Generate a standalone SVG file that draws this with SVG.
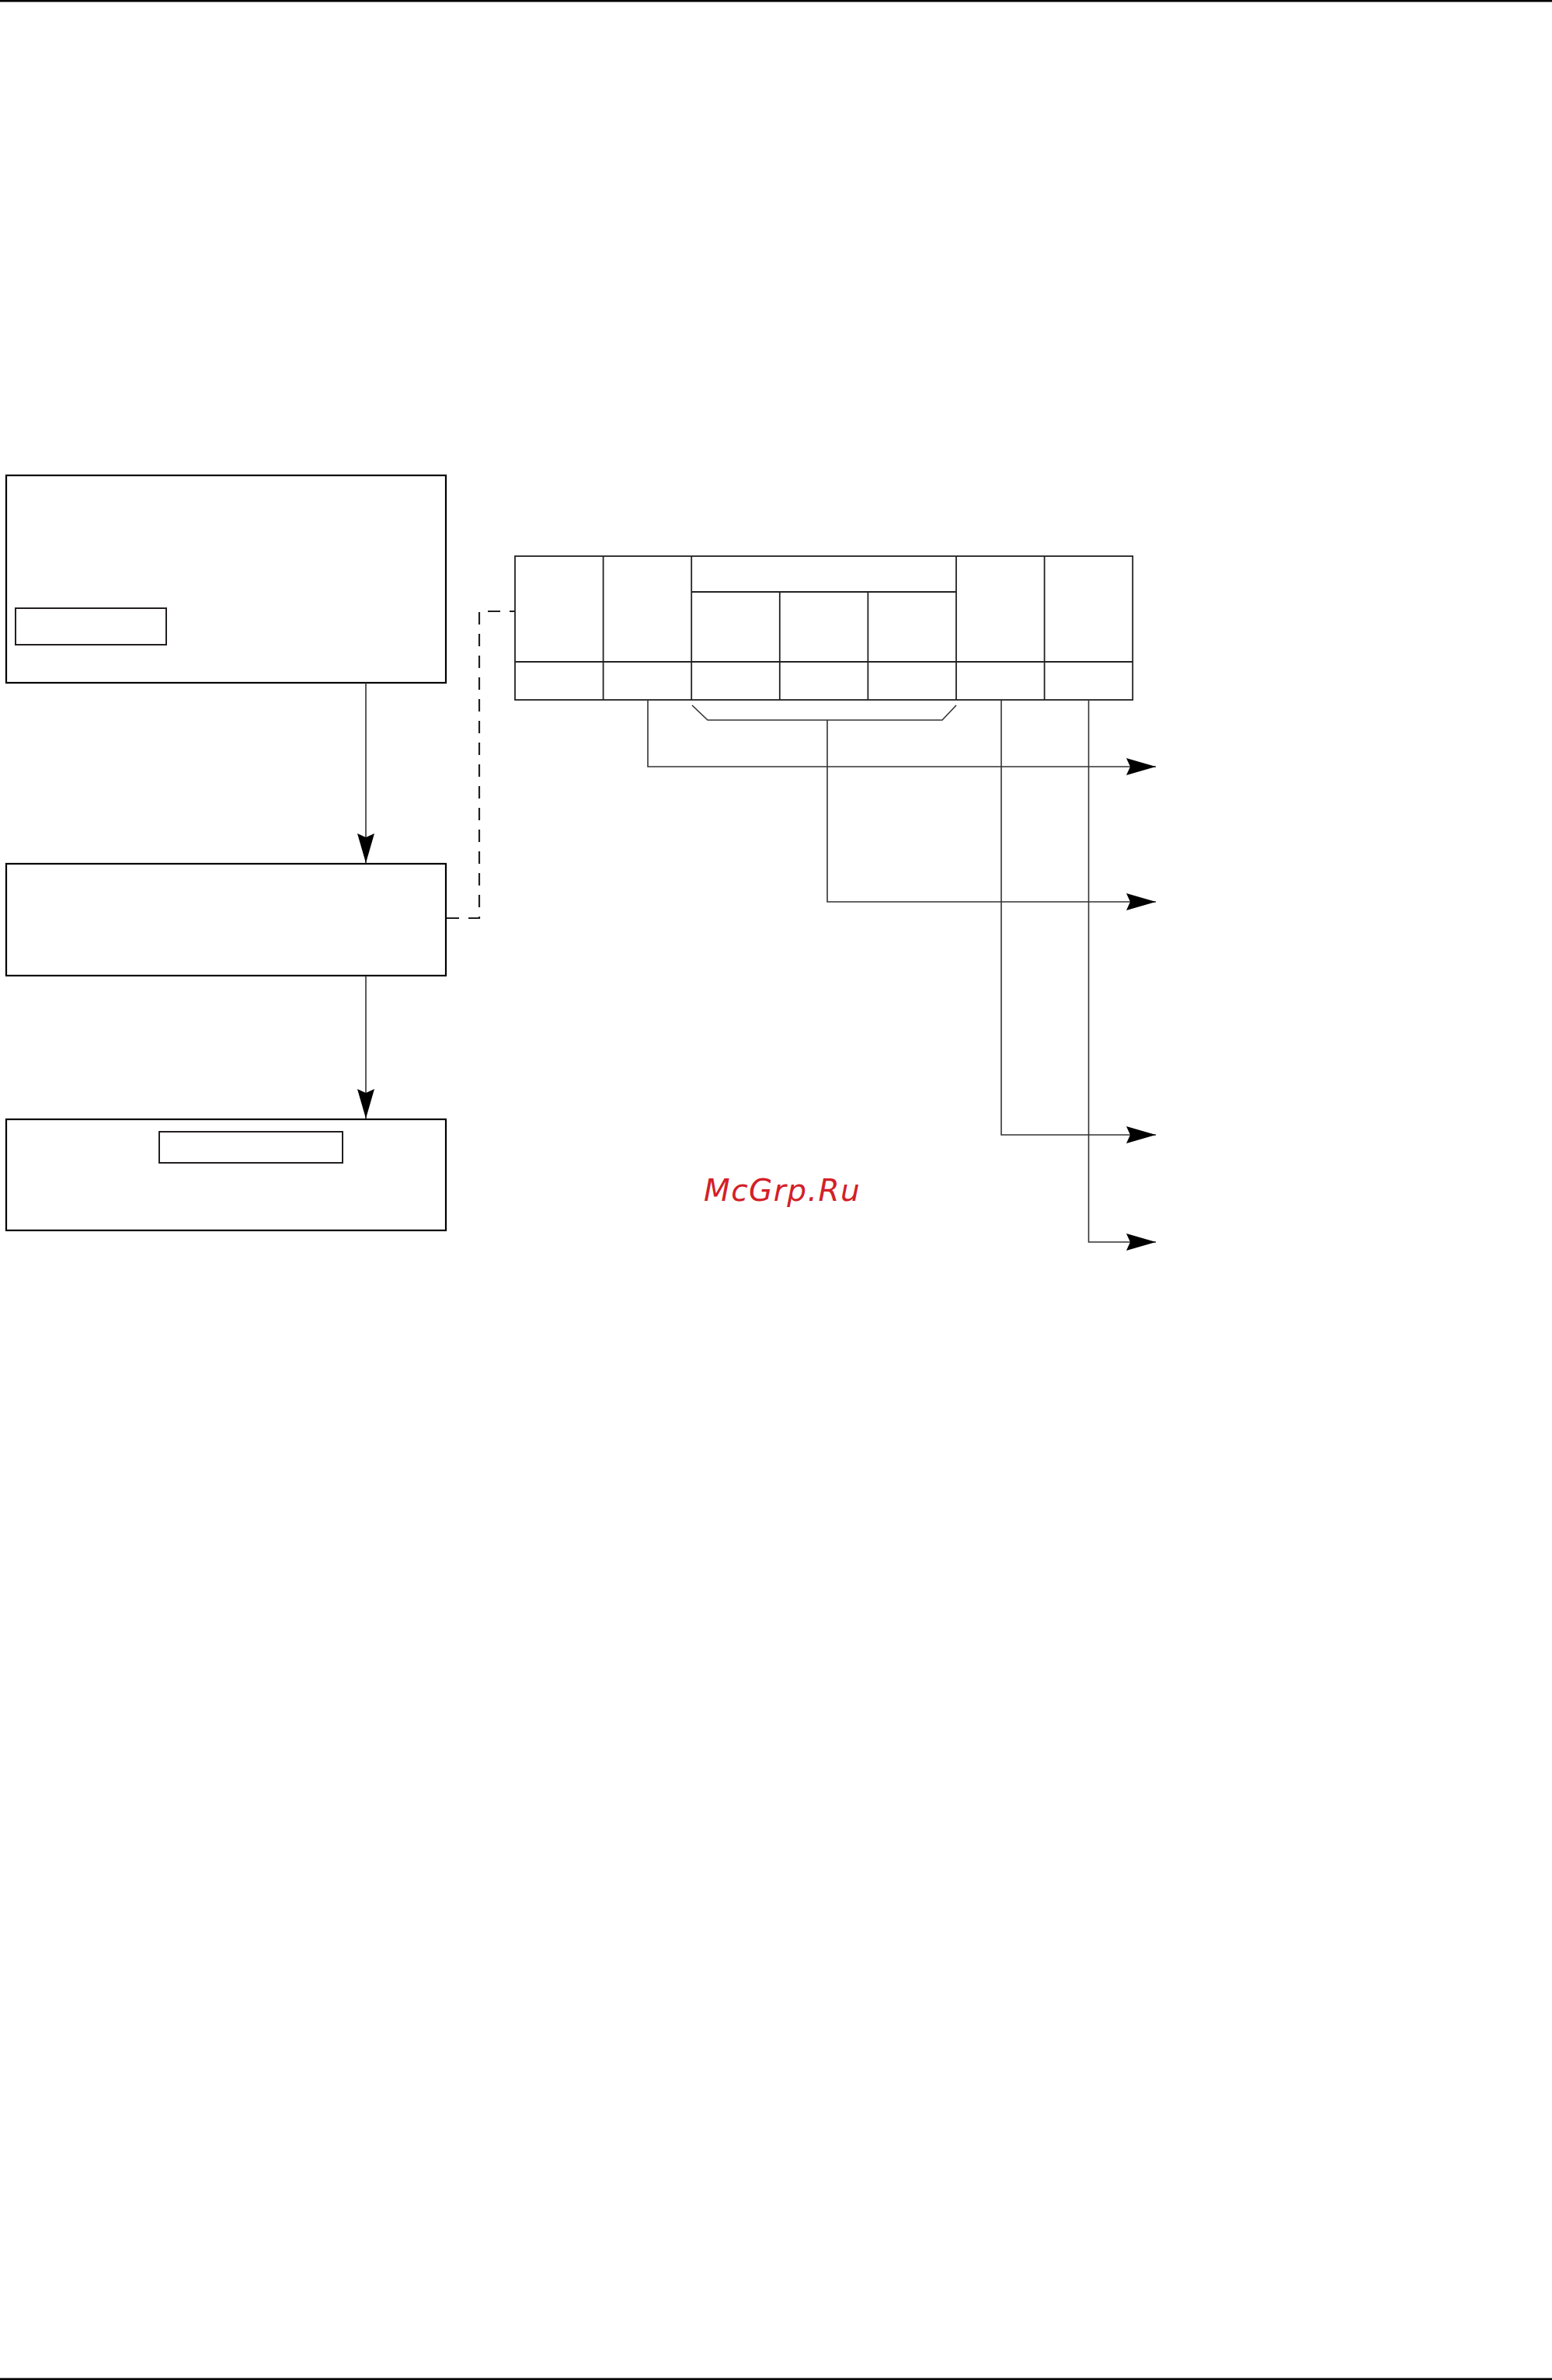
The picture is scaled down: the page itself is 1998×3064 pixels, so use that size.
<svg xmlns="http://www.w3.org/2000/svg" width="1998" height="3064" viewBox="0 0 1998 3064">
<style>
.box{fill:#fff;stroke:#000;stroke-width:2.2}
.inner{fill:none;stroke:#231f20;stroke-width:2}
.tbl{fill:none;stroke:#222;stroke-width:1.8}
.con{fill:none;stroke:#333;stroke-width:1.6}
.dash{fill:none;stroke:#231f20;stroke-width:2.2;stroke-dasharray:16 12}
.wm{font-family:"DejaVu Sans",sans-serif;font-style:italic;font-size:39px;letter-spacing:1.5px;fill:#d32027}
</style>
<defs>
<marker id="ah" markerUnits="userSpaceOnUse" markerWidth="40" markerHeight="24" viewBox="-39 -12 40 24" refX="0" refY="0" orient="auto">
<path d="M0,0 L-38,-11 L-33,0 L-38,11 Z" fill="#000"/>
</marker>
</defs>
<rect x="0" y="0" width="1998" height="2.5" fill="#000"/>
<rect x="0" y="3061.5" width="1998" height="2.5" fill="#000"/>
<g id="node-1">
<rect class="box" x="8" y="612" width="566" height="267"/>
<rect class="inner" x="20" y="783" width="194" height="47"/>
</g>
<g id="node-2">
<rect class="box" x="8" y="1112" width="566" height="144"/>
</g>
<g id="node-3">
<rect class="box" x="8" y="1441" width="566" height="143"/>
<rect class="inner" x="205" y="1457" width="236" height="40"/>
</g>
<g id="node-table">
<rect class="tbl" x="663" y="716" width="795.2" height="185"/>
<line class="tbl" x1="663" y1="852" x2="1458.2" y2="852"/>
<line class="tbl" x1="890.2" y1="762" x2="1231" y2="762"/>
<line class="tbl" x1="776.6" y1="716" x2="776.6" y2="901"/>
<line class="tbl" x1="890.2" y1="716" x2="890.2" y2="901"/>
<line class="tbl" x1="1003.8" y1="762" x2="1003.8" y2="901"/>
<line class="tbl" x1="1117.4" y1="762" x2="1117.4" y2="901"/>
<line class="tbl" x1="1231" y1="716" x2="1231" y2="901"/>
<line class="tbl" x1="1344.6" y1="716" x2="1344.6" y2="901"/>
<path class="con" d="M891,908 L911,927 H1213 L1231,908"/>
</g>
<g id="connectors">
<line class="con" x1="471" y1="879" x2="471" y2="1111" stroke="#000" stroke-width="2" marker-end="url(#ah)"/>
<line class="con" x1="471" y1="1256" x2="471" y2="1440" stroke="#000" stroke-width="2" marker-end="url(#ah)"/>
<path class="dash" d="M575,1182 H617 V787 H663"/>
<path class="con" d="M834,901 V987 H1488" marker-end="url(#ah)"/>
<path class="con" d="M1065,927 V1161 H1488" marker-end="url(#ah)"/>
<path class="con" d="M1289,901 V1461 H1488" marker-end="url(#ah)"/>
<path class="con" d="M1401.5,901 V1599 H1488" marker-end="url(#ah)"/>
</g>
<text class="wm" x="906" y="1546">McGrp.Ru</text>
</svg>
